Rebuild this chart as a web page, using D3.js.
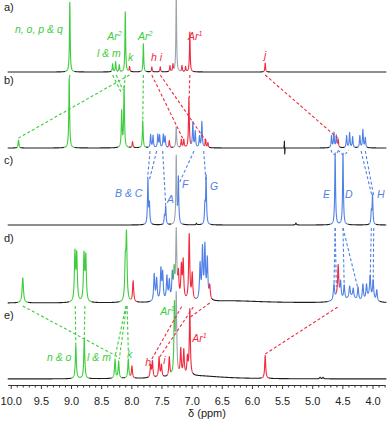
<!DOCTYPE html>
<html><head><meta charset="utf-8">
<script src="https://cdn.jsdelivr.net/npm/d3@7"></script>
<style>body{margin:0;background:#fff}svg{display:block}text{font-family:"Liberation Sans",Arial,sans-serif}</style>
</head><body><svg id="c" width="390" height="422"></svg>
<script>
// ---------- data ----------
const panelNames = ["a)", "b)", "c)", "d)", "e)"];
// [ppm, intensity, colour key, optional half-width ppm]
const peaksA = [
  [9.02,70,"g"],[8.31,8,"g"],[8.26,10,"g"],[8.20,7,"g"],[8.10,60,"g"],[8.03,5,"r"],
  [7.80,28,"g"],[7.66,5,"r"],[7.52,5,"r"],[7.36,6,"r"],[7.31,7,"r"],[7.255,78,"s"],
  [7.16,6,"r"],[7.10,5,"r"],[7.03,40,"r"],[5.78,9,"r"]
];
const peaksB = [
  [9.87,8,"g"],[9.03,70,"g"],[8.16,36,"g"],[8.12,61,"g"],[7.98,6,"r"],[7.81,27,"g"],
  [7.68,13,"b"],[7.64,12,"b"],[7.56,13,"b"],[7.53,12,"b"],[7.47,13,"b"],[7.44,11,"b"],
  [7.37,7,"r"],[7.255,21,"s"],[7.17,8,"r"],[7.13,8,"r"],[7.045,50,"r"],
  [6.98,25,"b"],[6.94,16,"b"],[6.87,11,"b"],[6.83,26,"b"],[6.77,8,"r"],[6.73,5,"r"],
  [5.462,8,"k",0.002],[5.455,-7,"k",0.002],
  [4.68,12,"b"],[4.64,15,"b"],[4.60,12,"b"],[4.57,8,"r"],
  [4.43,12,"b"],[4.38,15,"b"],[4.33,11,"b"],[4.21,12,"b"],[4.16,18,"b"],[4.12,10,"b"]
];
const peaksC = [
  [7.725,45,"b"],[7.70,20,"b"],[7.45,8,"b"],[7.43,18,"b"],[7.255,68,"s"],[7.22,46,"b"],
  [6.92,1.5,"k"],[6.78,18,"b"],[6.76,48,"b"],[5.27,2,"k"],
  [4.62,72,"b"],[4.49,72,"b"],[4.02,12,"b"],[4.00,29,"b"]
];
const peaksD = [
  [9.80,25,"g",0.013],[8.935,48,"g"],[8.905,46,"g"],[8.785,46,"g"],[8.755,44,"g"],
  [8.10,36,"g"],[8.08,64,"g"],[7.97,21,"r"],
  [7.62,27,"b"],[7.58,22,"b"],[7.51,31,"b"],[7.48,27,"b"],[7.41,24,"b"],[7.37,19,"b"],
  [7.32,25,"b"],[7.29,27,"g"],[7.255,68,"s"],
  [7.22,24,"r"],[7.17,32,"r"],[7.14,38,"r"],[7.04,66,"r"],[6.99,26,"r"],
  [6.86,35,"b"],[6.82,50,"b"],[6.78,52,"b"],[6.74,40,"b"],[6.70,13,"r"],
  [4.64,15,"b"],[4.57,31,"r"],[4.53,16,"b"],[4.47,14,"b"],[4.38,11,"b"],[4.32,9,"b"],
  [4.24,13,"b"],[4.16,16,"b"],[4.10,14,"b"],[4.04,21,"b"],[3.99,19,"b"],[3.93,11,"b"],
  [4.58,5,"b",0.06],[4.35,5,"b",0.08],[4.05,5,"b",0.06],[6.3,2,"k",0.6]
];
const peaksE = [
  [8.92,33,"g"],[8.78,40,"g"],[8.27,19,"g"],[8.21,17,"g"],[8.05,19,"g"],[7.99,12,"r"],
  [7.68,12,"r"],[7.65,16,"r"],[7.54,20,"r"],[7.50,12,"r"],[7.37,19,"r"],
  [7.285,68,"g"],[7.255,78,"s"],[7.18,26,"r"],[7.13,25,"r"],[7.07,17,"r"],[7.03,66,"r"],
  [5.78,23,"r"],[4.87,1.5,"k"],[4.82,1.5,"k"],[6.9,3,"k",0.5]
];
const spectra = [peaksA, peaksB, peaksC, peaksD, peaksE];

// dashed correlation lines: [fromPanel, fromPpm, fromLevel, toPanel, toPpm, toLevel, colour]
const links = [
  [0,9.02,-3,1,9.03,68,"g"],[0,8.03,-3,1,9.87,10,"g"],[0,8.31,-3,1,8.17,56,"g"],
  [0,8.25,-3,1,8.14,58,"g"],[0,8.10,-3,1,8.12,60,"g"],[0,7.80,-3,1,7.81,28,"g"],
  [0,7.66,-3,1,7.15,10,"r"],[0,7.52,-3,1,6.74,5,"r"],[0,7.03,-3,1,7.04,50,"r"],
  [0,5.78,-3,1,4.58,10,"r"],
  [1,7.69,-3,2,7.73,47,"b"],[1,7.58,-3,2,7.70,45,"b"],[1,7.48,-3,2,7.43,20,"b"],
  [1,6.96,-3,2,7.22,40,"b"],[1,6.80,-3,2,6.76,42,"b"],[1,4.19,-3,2,4.01,29,"b"],
  [1,4.12,-3,2,3.98,29,"b"],
  [2,4.62,-3,3,4.64,16,"b"],[2,4.62,-3,3,4.60,16,"b"],[2,4.49,-3,3,4.47,17,"b"],
  [2,4.49,-3,3,4.24,14,"b"],[2,4.02,-3,3,4.04,23,"b"],[2,3.98,-3,3,3.99,20,"b"],
  [3,9.80,-3,4,8.22,22,"g"],[3,8.93,-3,4,8.92,33,"g"],[3,8.77,-3,4,8.78,40,"g"],
  [3,8.09,-3,4,8.27,22,"g"],[3,8.08,-3,4,8.20,20,"g"],[3,8.07,-3,4,8.05,28,"g"],
  [4,7.66,20,3,7.16,-3,"r"],[4,7.53,22,3,6.96,-3,"r"],[4,7.02,62,3,6.70,0,"r"],
  [4,5.78,25,3,4.55,-3,"r"]
];
// small dashed arcs under b): [panel, ppmStart, ppmEnd]
const brackets = [[1,4.69,4.565,"b"],[1,4.565,4.40,"b"]];

// peak labels: [panel, ppm (text start), level, text, superscript, colour]
const peakLabels = [
  [0,9.93,39,"n, o, p & q","","g"],[0,8.57,15,"l & m","","g"],[0,8.40,32,"Ar","2","g"],
  [0,8.055,11,"k","","g"],[0,7.89,32,"Ar","2","g"],[0,7.673,11,"h","","r"],
  [0,7.53,11,"i","","r"],[0,7.06,32,"Ar","1","r"],[0,5.80,13,"j","","r"],
  [2,8.27,28,"B & C","","b"],[2,7.41,22,"A","","b"],[2,7.16,37,"F","","b"],
  [2,6.695,35,"G","","b"],[2,4.82,27,"E","","b"],[2,4.455,27,"D","","b"],[2,3.925,27,"H","","b"],
  [4,9.40,18,"n & o","","g"],[4,8.735,18,"l & m","","g"],[4,8.07,21,"k","","g"],
  [4,7.52,64,"Ar","1","g"],[4,7.77,13,"h","","r"],[4,7.47,15,"i","","r"],[4,6.99,37,"Ar","1","r"]
];
const majorTicks = [10.0,9.5,9.0,8.5,8.0,7.5,7.0,6.5,6.0,5.5,5.0,4.5,4.0];
const tickLabels = ["10.0","9.5","9.0","8.5","8.0","7.5","7.0","6.5","6.0","5.5","5.0","4.5","4.0"];
const axisTitle = "δ (ppm)";

// ---------- layout / style ----------
const colors = {g:"#3ccc3c", r:"#f2283c", b:"#4f80e6", s:"#9ca4ac", k:"#1e1e1e"};
const baselines = [72,148,225,303,379];
const panelLabelY = [11,84,164,242,319];
const defaultWidth = [0.007,0.008,0.008,0.011,0.010];
const axisY = 385;

const svg = d3.select("#c");
const x = d3.scaleLinear().domain([10.05, 3.8]).range([7.7, 384.6]);
const yScales = baselines.map(b => d3.scaleLinear().domain([0, 100]).range([b, b - 100]));

const line = d3.line().x(d => d[0]).y(d => d[1]);
const grid = d3.range(10.05, 3.77, -0.0015);

spectra.forEach((peaks, pi) => {
  const ys = yScales[pi];
  const pts = grid.map(p => {
    let sum = 0, best = 0, bc = "k";
    for (const pk of peaks) {
      const g = pk[3] || defaultWidth[pi];
      const d = (p - pk[0]) / g;
      const v = pk[1] / (1 + d * d);
      sum += v;
      if (Math.abs(v) > best) { best = Math.abs(v); bc = pk[2]; }
    }
    if (best < 0.6) bc = "k";
    return {pt: [x(p), ys(sum)], c: bc};
  });
  const runs = [];
  let cur = null;
  pts.forEach((o, i) => {
    if (!cur || cur.c !== o.c) {
      const start = cur ? [pts[i - 1].pt, o.pt] : [o.pt];
      if (cur) cur.pts.push(o.pt);
      cur = {c: o.c, pts: start};
      runs.push(cur);
    } else cur.pts.push(o.pt);
  });
  const g = svg.append("g");
  runs.sort((a, b) => (a.c === "k" ? 0 : 1) - (b.c === "k" ? 0 : 1));
  runs.forEach(r => {
    g.append("path").attr("d", line(r.pts)).attr("fill", "none")
      .attr("stroke", colors[r.c]).attr("stroke-width", 1.1).attr("stroke-linejoin", "round");
  });
});

// dashed links
links.forEach(l => {
  svg.append("line")
    .attr("x1", x(l[1])).attr("y1", yScales[l[0]](l[2]))
    .attr("x2", x(l[4])).attr("y2", yScales[l[3]](l[5]))
    .attr("stroke", colors[l[6]]).attr("stroke-width", 1.1).attr("stroke-dasharray", "3,2.2");
});
brackets.forEach(b => {
  const ys = yScales[b[0]];
  const x1 = x(b[1]), x2 = x(b[2]), y0 = ys(-2), ym = ys(-11);
  svg.append("path").attr("d", `M${x1},${y0} Q${(x1 + x2) / 2},${ym} ${x2},${y0}`)
    .attr("fill", "none").attr("stroke", colors[b[3]]).attr("stroke-width", 1.1)
    .attr("stroke-dasharray", "2.5,2");
});

// peak labels
peakLabels.forEach(l => {
  const t = svg.append("text").attr("x", x(l[1])).attr("y", yScales[l[0]](l[2]))
    .attr("font-size", 10.5).attr("font-style", "italic").attr("fill", colors[l[5]]).text(l[3]);
  if (l[4]) t.append("tspan").attr("font-size", 7).attr("dy", -4).text(l[4]);
});

// panel labels
panelNames.forEach((n, i) => {
  svg.append("text").attr("x", 4).attr("y", panelLabelY[i]).attr("font-size", 11)
    .attr("fill", "#222").text(n);
});

// axis
const minorTicks = d3.range(100, 37, -1).map(v => v / 10).filter(v => !majorTicks.includes(v));
const axG = svg.append("g").attr("transform", `translate(0,${axisY})`);
axG.call(d3.axisBottom(x).tickValues(majorTicks).tickFormat((d, i) => tickLabels[i])
  .tickSize(4).tickSizeOuter(0).tickPadding(8));
axG.selectAll("text").attr("font-size", 11).attr("fill", "#222")
  .attr("font-family", '"Liberation Sans",Arial,sans-serif');
axG.selectAll("path,line").attr("stroke", "#333");
const mg = svg.append("g").attr("transform", `translate(0,${axisY})`);
mg.call(d3.axisBottom(x).tickValues(minorTicks).tickFormat("").tickSize(2.5).tickSizeOuter(0));
mg.select(".domain").remove();
mg.selectAll("line").attr("stroke", "#333");

svg.append("text").attr("x", 207).attr("y", 417).attr("text-anchor", "middle")
  .attr("font-size", 11).attr("fill", "#222").text(axisTitle);
</script>
</body></html>
